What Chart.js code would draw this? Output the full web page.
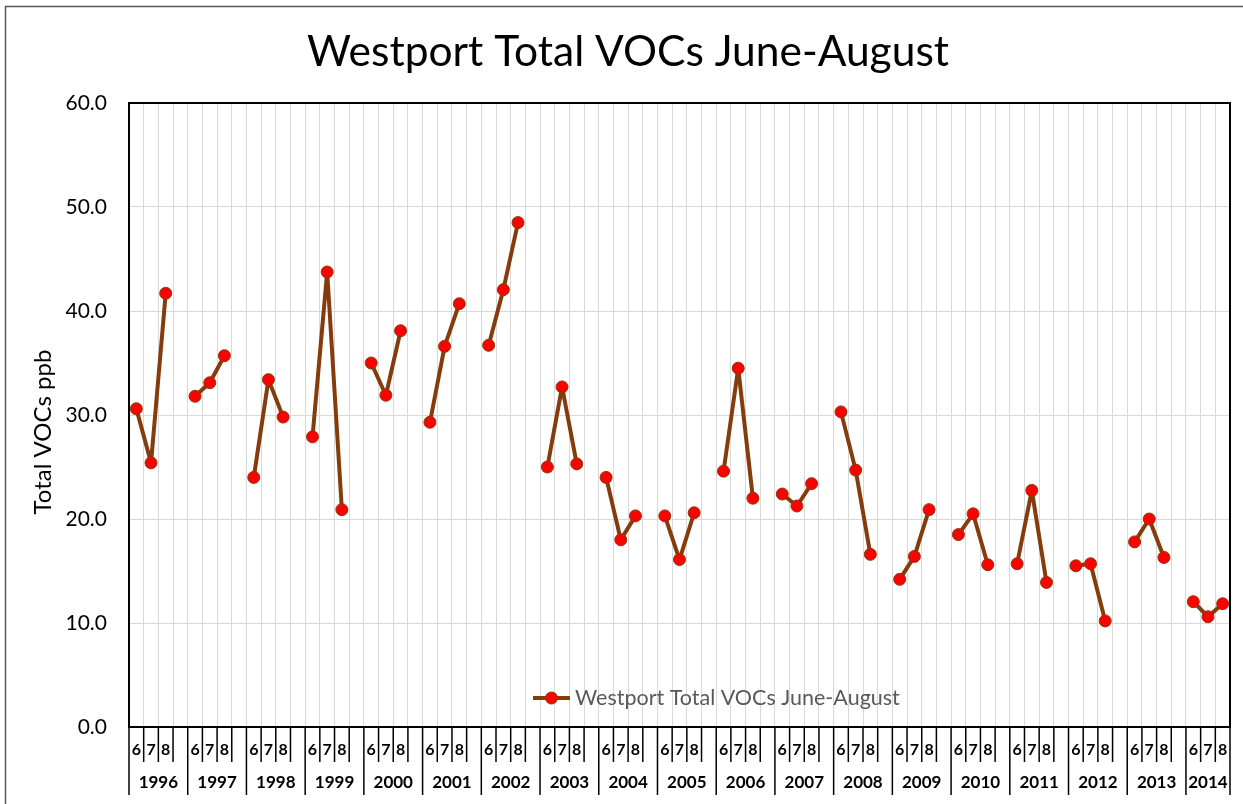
<!DOCTYPE html>
<html>
<head>
<meta charset="utf-8">
<script src="https://cdn.jsdelivr.net/npm/chart.js@4.4.1/dist/chart.umd.min.js"></script>
<style>
  html, body { margin: 0; padding: 0; background: #fff; }
  #wrap { width: 1243px; height: 804px; position: relative; }
</style>
</head>
<body>
<div id="wrap"><canvas id="c" width="1243" height="804"></canvas></div>
<script>
// ---- data ----
const years = [1996, 1997, 1998, 1999, 2000, 2001, 2002, 2003, 2004, 2005, 2006, 2007, 2008, 2009, 2010, 2011, 2012, 2013, 2014];
const months = ['6', '7', '8'];
const juneValues   = [30.6, 31.8, 24.0, 27.9, 35.0, 29.3, 36.7, 25.0, 24.0, 20.3, 24.6, 22.4, 30.3, 14.2, 18.5, 15.7, 15.5, 17.8, 12.05];
const julyValues   = [25.4, 33.1, 33.4, 43.75, 31.9, 36.6, 42.05, 32.7, 18.0, 16.1, 34.5, 21.25, 24.7, 16.4, 20.5, 22.75, 15.7, 20.0, 10.6];
const augustValues = [41.7, 35.7, 29.8, 20.9, 38.1, 40.7, 48.5, 25.3, 20.3, 20.6, 22.0, 23.4, 16.6, 20.9, 15.6, 13.9, 10.2, 16.3, 11.85];
const yTicks = [0, 10, 20, 30, 40, 50, 60];
const chartTitle = 'Westport Total VOCs June-August';
const seriesName = 'Westport Total VOCs June-August';
const yTitle = 'Total VOCs ppb';

// ---- build category table (month slots + one empty spacer between years) ----
const labels = [];
const yearOfCat = [];
const values = [];
years.forEach((yr, yi) => {
  const monthly = [juneValues[yi], julyValues[yi], augustValues[yi]];
  months.forEach((m, mi) => { labels.push(m); yearOfCat.push(yr); values.push(monthly[mi]); });
  if (yi < years.length - 1) { labels.push(''); yearOfCat.push(yr); values.push(null); }
});

const LINE = '#843C0C';
const MARK = '#FF0000';
const FONT = 'Lato, "Open Sans", sans-serif';

const framePlugin = {
  id: 'frame',
  beforeDraw(chart) {
    const ctx = chart.ctx;
    ctx.save();
    ctx.fillStyle = '#fff';
    ctx.fillRect(0, 0, chart.width, chart.height);
    ctx.strokeStyle = '#595959';
    ctx.lineWidth = 1.5;
    ctx.beginPath();
    ctx.moveTo(5.5, chart.height);
    ctx.lineTo(5.5, 6.5);
    ctx.lineTo(chart.width, 6.5);
    ctx.stroke();
    // title
    ctx.fillStyle = '#000';
    ctx.font = '42.5px ' + FONT;
    ctx.textAlign = 'center';
    ctx.textBaseline = 'middle';
    ctx.fillText(chartTitle, 628, 52);
    // y axis title
    ctx.save();
    ctx.translate(43, 432);
    ctx.rotate(-Math.PI / 2);
    ctx.font = '24px ' + FONT;
    ctx.fillText(yTitle, 0, 0);
    ctx.restore();
    ctx.restore();
  },
  afterDraw(chart) {
    const { ctx, chartArea: ca, scales } = chart;
    const x = scales.x;
    ctx.save();
    // plot border
    ctx.strokeStyle = '#000';
    ctx.lineWidth = 2;
    ctx.strokeRect(ca.left, ca.top, ca.right - ca.left, ca.bottom - ca.top);

    const n = labels.length;
    const step = x.getPixelForValue(1) - x.getPixelForValue(0);
    const base = ca.bottom;
    // separators
    ctx.lineWidth = 1.5;
    ctx.strokeStyle = '#000';
    for (let i = 0; i <= n; i++) {
      const bx = (i < n ? x.getPixelForValue(i) : x.getPixelForValue(n - 1) + step) - step / 2;
      const tall = i === 0 || i === n || (labels[i] === months[0]);
      ctx.beginPath();
      ctx.moveTo(bx, base);
      ctx.lineTo(bx, base + (tall ? 68 : 35));
      ctx.stroke();
    }
    // month labels
    ctx.fillStyle = '#000';
    ctx.textAlign = 'center';
    ctx.textBaseline = 'middle';
    ctx.font = 'bold 16px ' + FONT;
    for (let i = 0; i < n; i++) {
      if (labels[i]) ctx.fillText(labels[i], x.getPixelForValue(i), base + 23);
    }
    // year labels
    ctx.font = 'bold 17px ' + FONT;
    years.forEach((yr) => {
      let first = -1, last = -1;
      for (let i = 0; i < n; i++) if (yearOfCat[i] === yr) { if (first < 0) first = i; last = i; }
      const l = x.getPixelForValue(first) - step / 2;
      const r = x.getPixelForValue(last) + step / 2;
      ctx.fillText(String(yr), (l + r) / 2, base + 56);
    });

    // legend inside plot area
    const ly = ca.bottom - 29;
    const lx = ca.left + 404;
    ctx.strokeStyle = LINE;
    ctx.lineWidth = 4;
    ctx.beginPath();
    ctx.moveTo(lx, ly); ctx.lineTo(lx + 37, ly);
    ctx.stroke();
    ctx.beginPath();
    ctx.arc(lx + 18.5, ly, 6, 0, Math.PI * 2);
    ctx.fillStyle = MARK; ctx.fill();
    ctx.lineWidth = 1; ctx.strokeStyle = LINE; ctx.stroke();
    ctx.fillStyle = '#595959';
    ctx.font = '21.5px ' + FONT;
    ctx.textAlign = 'left';
    ctx.fillText(chart.data.datasets[0].label, lx + 42, ly);
    ctx.restore();
  }
};

new Chart(document.getElementById('c'), {
  type: 'line',
  data: {
    labels: labels,
    datasets: [{
      label: seriesName,
      data: values,
      borderColor: LINE,
      borderWidth: 4,
      borderJoinStyle: 'round',
      borderCapStyle: 'round',
      pointBackgroundColor: MARK,
      pointBorderColor: LINE,
      pointBorderWidth: 1,
      pointRadius: 6,
      spanGaps: false,
      tension: 0,
      fill: false
    }]
  },
  options: {
    responsive: false,
    animation: false,
    devicePixelRatio: 1,
    layout: { padding: { left: 0, right: 13, top: 103, bottom: 0 } },
    plugins: {
      legend: { display: false },
      tooltip: { enabled: false },
      title: { display: false }
    },
    scales: {
      x: {
        type: 'category',
        offset: true,
        grid: { offset: true, color: '#d9d9d9', lineWidth: 1, drawTicks: false },
        border: { display: true, color: '#000', width: 2 },
        ticks: { display: false },
        afterFit(scale) { scale.height = 77; }
      },
      y: {
        min: 0, max: 60,
        afterBuildTicks(scale) { scale.ticks = yTicks.map(v => ({ value: v })); },
        grid: { color: '#d9d9d9', lineWidth: 1, drawTicks: false },
        border: { display: true, color: '#000', width: 2 },
        ticks: {
          color: '#000',
          padding: 22,
          font: { family: FONT, size: 21 },
          callback: (v) => Number(v).toFixed(1)
        },
        title: { display: false },
        afterFit(scale) { scale.width = 129; }
      }
    }
  },
  plugins: [framePlugin]
});
</script>
</body>
</html>
